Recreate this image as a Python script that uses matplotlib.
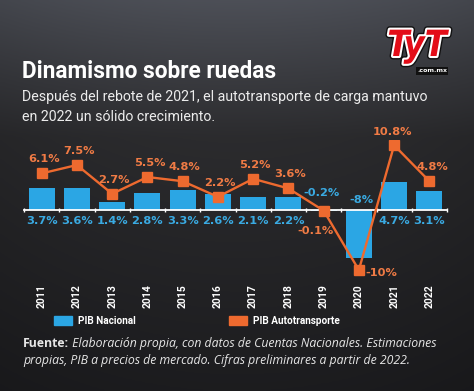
import numpy as np
import matplotlib.pyplot as plt
import matplotlib.patheffects as pe
from matplotlib.patches import Patch
from matplotlib.transforms import blended_transform_factory

years = ['2011', '2012', '2013', '2014', '2015', '2016',
         '2017', '2018', '2019', '2020', '2021', '2022']
pib_nacional = [3.7, 3.6, 1.4, 2.8, 3.3, 2.6, 2.1, 2.2, -0.2, -8, 4.7, 3.1]
pib_auto = [6.1, 7.5, 2.7, 5.5, 4.8, 2.2, 5.2, 3.6, -0.1, -10, 10.8, 4.8]
nac_labels = ['3.7%', '3.6%', '1.4%', '2.8%', '3.3%', '2.6%',
              '2.1%', '2.2%', '-0.2%', '-8%', '4.7%', '3.1%']
auto_labels = ['6.1%', '7.5%', '2.7%', '5.5%', '4.8%', '2.2%',
               '5.2%', '3.6%', '-0.1%', '-10%', '10.8%', '4.8%']

BLUE = '#2ba6e4'
ORANGE = '#ee6a2f'
ORANGE_TXT = '#f07b45'
BLUE_TXT = '#3aaae2'
NARROW = ['Liberation Sans Narrow', 'Roboto', 'DejaVu Sans']

W, H = 474, 391
fig = plt.figure(figsize=(W / 100, H / 100), dpi=100)

# background gradient
bg = fig.add_axes([0, 0, 1, 1], zorder=-10)
t = np.linspace(0, 1, 200)
xs = np.linspace(-1, 1, 200)
stops = [0, 0.35, 1]
r = np.interp(t, stops, [0.30, 0.17, 0.11])
g = np.interp(t, stops, [0.31, 0.17, 0.11])
b = np.interp(t, stops, [0.34, 0.18, 0.12])
img = np.stack([r, g, b], axis=1)[:, None, :] * np.ones((1, 200, 1))
img = img * (1 - 0.12 * xs[None, :, None] ** 2)
bg.imshow(np.clip(img, 0, 1), aspect='auto', extent=[0, 1, 0, 1])
bg.axis('off')

def fy(px):
    return 1 - px / H

# chart axes
ax = fig.add_axes([24 / W, fy(276), 423 / W, 136 / H])
ax.set_facecolor('none')
x = np.arange(len(years))
ax.bar(x, pib_nacional, width=0.74, color=BLUE, zorder=2)
ax.plot(x, pib_auto, color=ORANGE, lw=1.7, marker='s', ms=6.5, zorder=4)
ax.set_xlim(-0.5, 11.5)
ax.set_ylim(-11, 11.67)

for s in ['top', 'right', 'left']:
    ax.spines[s].set_visible(False)
ax.spines['bottom'].set_position(('data', 0))
ax.spines['bottom'].set_color('white')
ax.spines['bottom'].set_linewidth(1.3)
ax.spines['bottom'].set_zorder(3)
ax.set_yticks([])
ax.set_xticks([])
ax.set_xticks(np.arange(-0.5, 12, 1), minor=True)
ax.tick_params(axis='x', which='minor', length=3, direction='inout',
               color='white', width=1, labelbottom=False)

# bar labels
nac_offsets = {8: (-2, 17), 9: (3, 10)}
for i, (v, lab) in enumerate(zip(pib_nacional, nac_labels)):
    dx, dy = nac_offsets.get(i, (0, -11))
    ax.annotate(lab, (i, 0), xytext=(dx, dy), textcoords='offset pixels',
                ha='center', va='center', color=BLUE_TXT, fontsize=8.2,
                fontweight='bold', zorder=5)

# line labels
auto_offsets = {8: (-8, -20), 9: (7, -3), 10: (-2, 13), 11: (3, 14)}
for i, (v, lab) in enumerate(zip(pib_auto, auto_labels)):
    dx, dy = auto_offsets.get(i, (2, 14))
    ax.annotate(lab, (i, v), xytext=(dx, dy), textcoords='offset pixels',
                ha='left' if i == 9 else 'center', va='center',
                color=ORANGE_TXT, fontsize=8.2, fontweight='bold', zorder=5)

# year labels
tr = blended_transform_factory(ax.transData, fig.transFigure)
for i, yr in enumerate(years):
    ax.text(i, fy(296), yr, transform=tr, rotation=90, ha='center',
            va='center', color='white', fontsize=7.5, fontweight='bold',
            family=NARROW)

# legend
handles = [Patch(color=BLUE, label='PIB Nacional'),
           Patch(color=ORANGE, label='PIB Autotransporte')]
leg = fig.legend(handles=handles, loc='center left',
                 bbox_to_anchor=(45 / W, fy(321)), ncol=2, frameon=False,
                 handlelength=1.8, handleheight=1.0, handletextpad=0.6,
                 columnspacing=9.3,
                 prop={'family': NARROW, 'weight': 'bold', 'size': 7.2})
for txt in leg.get_texts():
    txt.set_color('white')

# titles
fig.text(22 / W, fy(71), 'Dinamismo sobre ruedas', color='white',
         fontsize=16.3, fontweight='bold', family='Roboto', va='center')
fig.text(22 / W, fy(97),
         'Después del rebote de 2021, el autotransporte de carga mantuvo',
         color='#ececec', fontsize=10.2, family='Roboto', va='center')
fig.text(22 / W, fy(117), 'en 2022 un sólido crecimiento.',
         color='#ececec', fontsize=10.2, family='Roboto', va='center')

# logo
logo = fig.text(417 / W, fy(46), 'TyT', color='#e30d18', fontsize=26,
                fontweight='bold', style='italic', family='DejaVu Sans',
                ha='center', va='center', stretch='condensed')
logo.set_path_effects([pe.Stroke(linewidth=5, foreground='#111111'),
                       pe.Stroke(linewidth=3, foreground='white'),
                       pe.Normal()])
fig.text(432 / W, fy(71), '.com.mx', color='white', fontsize=4.5,
         fontweight='bold', ha='center', va='center',
         bbox=dict(boxstyle='square,pad=0.2', fc='#111111', ec='none'))

# footer
FOOT = 8.8
f1 = fig.text(23 / W, fy(347), 'Fuente:', color='#e6e6e6', fontsize=FOOT,
              fontweight='bold', family='Open Sans', va='baseline')
renderer = fig.canvas.get_renderer()
x1 = f1.get_window_extent(renderer).x1
fig.text(x1 / W, fy(347),
         ' Elaboración propia, con datos de Cuentas Nacionales. Estimaciones',
         color='#e6e6e6', fontsize=FOOT, style='italic', family='Open Sans',
         va='baseline')
fig.text(23 / W, fy(364),
         'propias, PIB a precios de mercado. Cifras preliminares a partir de 2022.',
         color='#e6e6e6', fontsize=FOOT, style='italic', family='Open Sans',
         va='baseline')

fig.savefig('out.png', dpi=100)
